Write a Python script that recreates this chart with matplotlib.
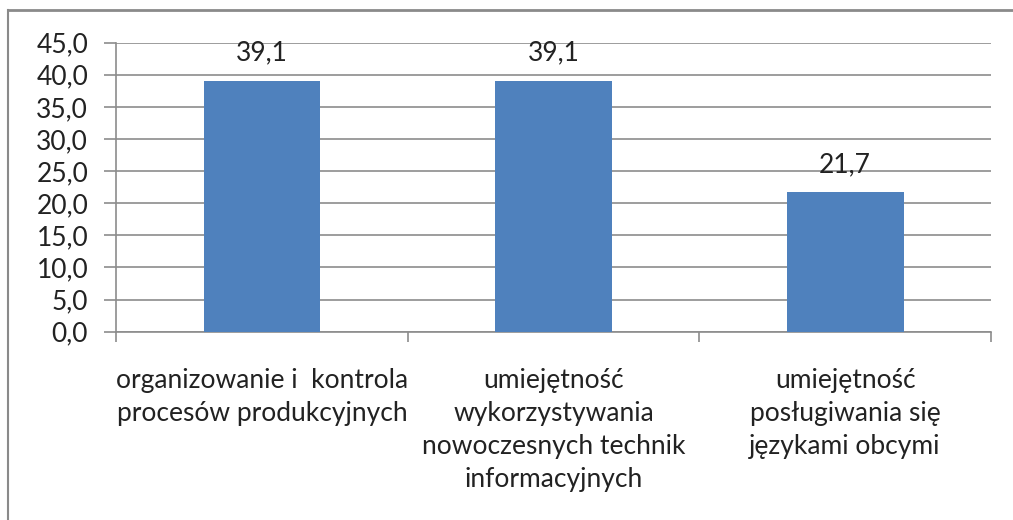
import matplotlib
matplotlib.use("Agg")
import matplotlib.pyplot as plt
from matplotlib.lines import Line2D

categories = [
    "organizowanie i  kontrola\nprocesów produkcyjnych",
    "umiejętność\nwykorzystywania\nnowoczesnych technik\ninformacyjnych",
    "umiejętność\nposługiwania się\njęzykami obcymi",
]
values = [39.1, 39.1, 21.7]
value_labels = ["39,1", "39,1", "21,7"]
yticks = [0, 5, 10, 15, 20, 25, 30, 35, 40, 45]
ytick_labels = ["0,0", "5,0", "10,0", "15,0", "20,0", "25,0", "30,0", "35,0", "40,0", "45,0"]

plt.rcParams['font.family'] = ['Lato', 'DejaVu Sans']

FS = 19
fig = plt.figure(figsize=(10.13, 5.2), dpi=100)
ax = fig.add_axes([116 / 1013, 1 - 331.7 / 520, (991 - 116) / 1013, (331.7 - 42.7) / 520])

x = list(range(len(categories)))
ax.bar(x, values, width=0.4, color="#4F81BD", zorder=3)
for xi, v, lab in zip(x, values, value_labels):
    ax.text(xi, v + 2.4, lab, ha="center", va="bottom", fontsize=FS, color="#222222")

ax.set_xlim(-0.5, 2.5)
ax.set_ylim(0, 45)
ax.set_yticks(yticks)
ax.set_yticklabels(ytick_labels, fontsize=FS, color="#222222")
ax.yaxis.grid(True, color="#8C8C8C", linewidth=1.2, zorder=0)
ax.set_axisbelow(True)

ax.set_xticks([-0.5, 0.5, 1.5, 2.5])
ax.set_xticklabels([])
ax.set_xticks(x, minor=True)
ax.set_xticklabels(categories, minor=True, fontsize=FS, color="#222222", linespacing=1.4, va="top")
ax.tick_params(axis="x", which="minor", length=0, pad=26)
ax.tick_params(axis="x", which="major", length=7, color="#8C8C8C", width=1.2)
ax.tick_params(axis="y", length=9, color="#8C8C8C", width=1.2, pad=11)

for s in ["top", "right"]:
    ax.spines[s].set_visible(False)
for s in ["left", "bottom"]:
    ax.spines[s].set_color("#8C8C8C")
    ax.spines[s].set_linewidth(1.2)

# outer frame (left and top edges)
fig.add_artist(Line2D([8 / 1013, 8 / 1013], [0, 1 - 10 / 520], transform=fig.transFigure, color="#8A8A8A", linewidth=1.5))
fig.add_artist(Line2D([8 / 1013, 1], [1 - 10 / 520, 1 - 10 / 520], transform=fig.transFigure, color="#8A8A8A", linewidth=2))

fig.savefig("out.png", dpi=100)
